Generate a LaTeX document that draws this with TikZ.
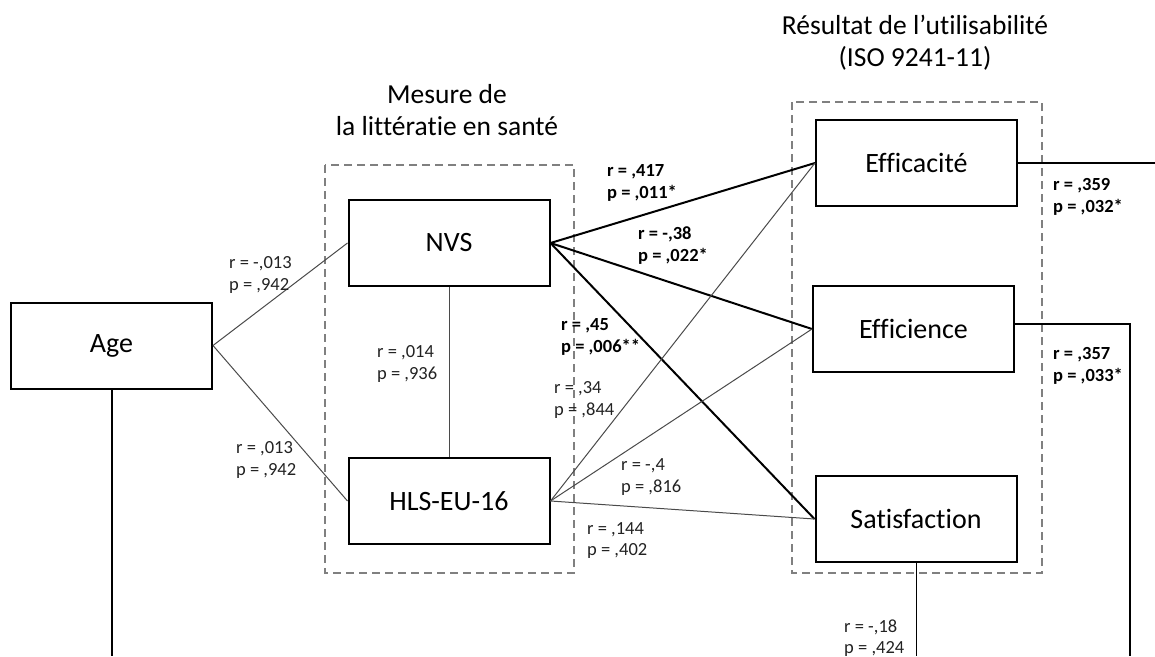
\documentclass[tikz,border=0pt]{standalone}
\usepackage{fontspec}
\setmainfont{Carlito}[Ligatures=NoCommon]
\usetikzlibrary{calc}
\definecolor{dashgray}{HTML}{808080}
\definecolor{thincol}{HTML}{4A4A4A}
\definecolor{labelcol}{HTML}{222222}
\begin{document}
\begin{tikzpicture}[x=1pt,y=-1pt,
  box/.style={draw=black,line width=2pt,minimum width=201pt,minimum height=86pt,inner sep=0pt,font=\fontsize{28}{32}\selectfont},
  grp/.style={draw=dashgray,line width=2pt,dash pattern=on 8pt off 5pt},
  lbl/.style={anchor=west,inner sep=0pt,align=left,font=\fontsize{18.5}{21.5}\selectfont,text=labelcol},
  blbl/.style={lbl,font=\fontsize{18.5}{21.5}\selectfont\bfseries,text=black},
  thinln/.style={line width=1pt,draw=thincol},
  thickln/.style={line width=2pt,draw=black},
  ttl/.style={align=center,inner sep=0pt,font=\fontsize{27.5}{32}\selectfont}]
\useasboundingbox (0,0) rectangle (1155,656);

% group frames
\draw[grp] (325,165) rectangle (574,573);
\draw[grp] (792,102) rectangle (1042,573);

% titles
\node[ttl] (t1) at (447,110) {Mesure de\\la littératie en santé};
\node[ttl] (t2) at (915,42.5) {Résultat de l’utilisabilité\\(ISO 9241-11)};

% boxes
\node[box] (age) at (111.5,345.5) {Age};
\node[box] (nvs) at (449,243) {NVS};
\node[box] (hls) at (449,501) {HLS-EU-16};
\node[box] (eff) at (916.5,163) {Efficacité};
\node[box] (efi) at (913.5,329) {Efficience};
\node[box] (sat) at (916,519) {Satisfaction};

% free ends
\coordinate (effout) at (1155,163);
\coordinate (efiup) at ($(efi.east)+(0,-5)$);
\coordinate (efiturn) at (1130,324);
\coordinate (efiend) at (1130,656);
\coordinate (ageend) at (111.5,656);
\coordinate (satend) at (916,656);

% connectors
\draw[thinln] (age.east) -- (nvs.west);
\draw[thinln] (age.east) -- (hls.west);
\draw[thinln] (nvs.south) -- (hls.north);
\draw[thickln] (nvs.east) -- (eff.west);
\draw[thickln] (nvs.east) -- (efi.west);
\draw[thickln] (nvs.east) -- (sat.west);
\draw[thinln] (hls.east) -- (eff.west);
\draw[thinln] (hls.east) -- (efi.west);
\draw[thinln] (hls.east) -- (sat.west);
\draw[thickln] (eff.east) -- (effout);
\draw[thickln] (efiup) -- (efiturn) -- (efiend);
\draw[thickln] (age.south) -- (ageend);
\draw[thinln,draw=black] (sat.south) -- (satend);

% labels
\node[lbl] (l1) at (229,275) {r = -,013\\p = ,942};
\node[lbl] (l2) at (236,460) {r = ,013\\p = ,942};
\node[lbl] (l3) at (377,364) {r = ,014\\p = ,936};
\node[blbl] (l4) at (607,183) {r = ,417\\p = ,011*};
\node[blbl] (l5) at (638,245.5) {r = -,38\\p = ,022*};
\node[blbl] (l6) at (561,337) {r = ,45\\p = ,006**};
\node[lbl] (l7) at (554,400) {r = ,34\\p = ,844};
\node[lbl] (l8) at (621,477) {r = -,4\\p = ,816};
\node[lbl] (l9) at (587,540.5) {r = ,144\\p = ,402};
\node[lbl] (l10) at (844,638) {r = -,18\\p = ,424};
\node[blbl] (l11) at (1053,197) {r = ,359\\p = ,032*};
\node[blbl] (l12) at (1053,366) {r = ,357\\p = ,033*};
\end{tikzpicture}
\end{document}
